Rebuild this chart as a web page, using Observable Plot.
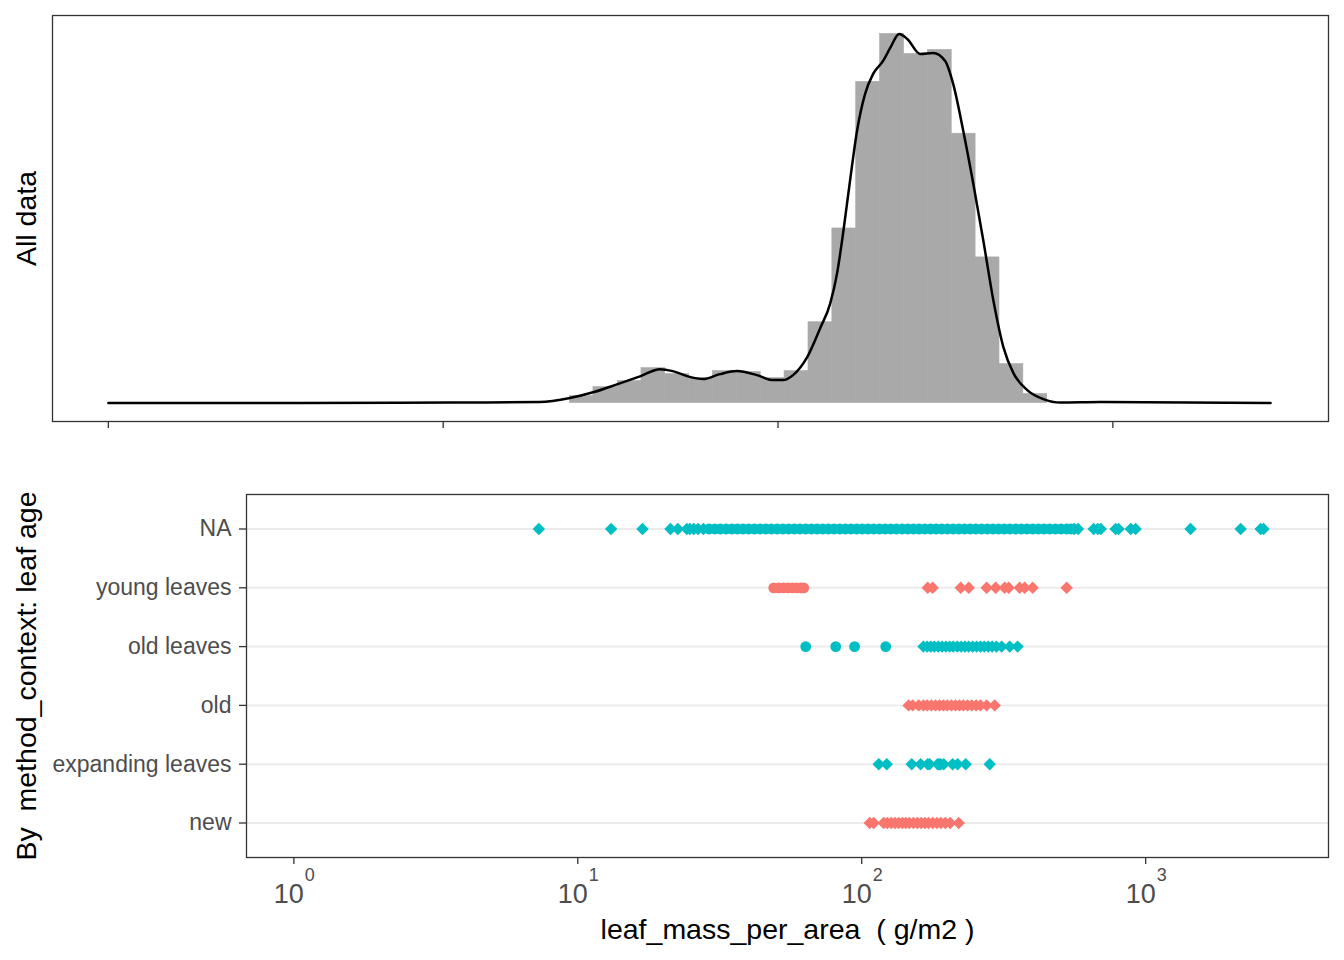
<!DOCTYPE html>
<html><head><meta charset="utf-8">
<script src="https://cdn.jsdelivr.net/npm/d3@7"></script>
<script src="https://cdn.jsdelivr.net/npm/@observablehq/plot@0.6"></script>
<style>
body{margin:0;background:#fff;}
#chart{position:relative;width:1344px;height:960px;font-family:"Liberation Sans",Arial,sans-serif;}
#chart svg{position:absolute;left:0;}
</style></head><body><div id="chart"></div>
<script>
// ---------- data ----------
const binEdges = [23.9, 28.1, 33.2, 39.1, 46.0, 54.3, 63.9, 75.4, 88.8, 104.6, 123.3, 145.3, 171.2, 201.8, 237.8, 280.3, 330.2, 389.1, 458.6, 540.4, 636.8];
const binCounts = [7, 16, 22, 35, 29, 25, 32, 31, 25, 32, 81, 175, 322, 370, 350, 354, 270, 146, 39, 9];

const densX = [1.0, 3.72, 10.5, 19.4, 23.9, 28.2, 33.2, 38.9, 44.4, 48.5, 53.5, 59.7, 67.1, 75.4, 86.5, 96.6, 103.5, 110.9, 122.2, 133.6, 143.2, 150.1, 156.4, 164.1, 172.2, 182.0, 192.3, 206.0, 216.3, 230.1, 243.2, 265.7, 290.6, 315.6, 333.5, 357.4, 382.9, 410.3, 439.6, 471.0, 504.7, 555, 620, 697, 918, 2958];
const densH = [0, 0, 0.5, 1, 5, 11, 19, 27, 34, 32, 27, 24, 29, 32, 28, 23, 23, 28, 46, 75, 100, 130, 170, 223, 273, 310, 330, 343, 356, 370, 365, 350, 351, 343, 320, 273, 220, 163, 103, 56, 30, 13, 4, 0.5, 1, 0];

const categories = ["NA", "young leaves", "old leaves", "old", "expanding leaves", "new"];
const catColors = ["#00BFC4", "#F8766D", "#00BFC4", "#F8766D", "#00BFC4", "#F8766D"];

const naDiamonds = [7.29, 13.1, 16.9, 21.2, 22.5, 24.2, 24.8, 25.6, 26.5, 27.7, 560, 578, 656, 678, 695, 784, 803, 886, 922, 1439, 2161, 2541, 2602];
const naCircles = [29, 30.4, 31.8, 33.3, 34.9, 36.5, 38.2, 40, 41.9, 43.9, 46, 48.1, 50.4, 52.8, 55.3, 57.9, 60.6, 63.5, 66.5, 69.6, 72.9, 76.3, 79.9, 83.7, 87.6, 91.7, 96, 100.5, 105.3, 110.2, 115.4, 120.9, 126.6, 132.5, 138.8, 145.3, 152.2, 159.3, 166.8, 174.7, 182.9, 191.5, 200.5, 210, 219.9, 230.2, 241.1, 252.4, 264.3, 276.8, 289.8, 303.5, 317.8, 332.7, 348.4, 364.8, 382, 400, 418.9, 438.6, 459.3, 480.9, 503.6, 527.3, 545];
const youngDiamonds = [170.8, 177.8, 223.2, 238.2, 275.4, 296.4, 318.8, 329.3, 360, 375, 400, 527];
const youngCircles = [49, 51, 53, 55, 57, 59, 61, 62.5];
const oldLeavesDiamonds = [165, 170, 175, 180, 186, 192, 198, 204, 210, 217, 224, 231, 238, 246, 254, 262, 270, 279, 288, 298, 311, 332, 354];
const oldLeavesCircles = [63.5, 81, 94.4, 121.5];
const oldDiamonds = [146.3, 151.2, 158.8, 165, 170, 176, 182, 188, 194, 200, 207, 214, 221, 228, 236, 244, 253, 262, 275.5, 294];
const expandingDiamonds = [114.8, 122.5, 150, 161.3, 170.8, 173.5, 185.2, 187.5, 189.8, 194.4, 209, 217.6, 232.4, 282.4];
const newDiamonds = [106.7, 110.2, 119.5, 123, 127, 131, 135, 139, 143, 147, 152, 157, 162, 167, 172, 178, 184, 190, 197, 205, 219.6];

const tickExps = [0, 1, 2, 3];
const xTitle = "leaf_mass_per_area\u00A0 (\u00A0g/m2\u00A0)";
const yTitleTop = "All data";
const yTitleBottom = "By\u00A0 method_context: leaf age";

// ---------- build tables ----------
const bins = binCounts.map((c, i) => ({lo: binEdges[i], hi: binEdges[i + 1], count: c}));
const dens = densX.map((v, i) => ({v, h: densH[i]}));
const groups = [
  ["NA", naDiamonds, naCircles],
  ["young leaves", youngDiamonds, youngCircles],
  ["old leaves", oldLeavesDiamonds, oldLeavesCircles],
  ["old", oldDiamonds, []],
  ["expanding leaves", expandingDiamonds, []],
  ["new", newDiamonds, []]
];
const diamondPts = [], circlePts = [];
for (const [cat, ds, cs] of groups) {
  ds.forEach(v => diamondPts.push({cat, v}));
  cs.forEach(v => circlePts.push({cat, v}));
}
const tickValues = tickExps.map(e => 10 ** e);

const FONT = '"Liberation Sans", Arial, sans-serif';
const xDomain = [0.681, 4406];
const maxCount = d3.max(binCounts);

const topPlot = Plot.plot({
  width: 1344, height: 440,
  marginLeft: 52, marginRight: 16, marginTop: 15, marginBottom: 19,
  style: {fontFamily: FONT, background: "transparent", overflow: "visible"},
  x: {type: "log", domain: xDomain, axis: null},
  y: {domain: [-0.05 * maxCount, 1.05 * maxCount], axis: null},
  marks: [
    Plot.rectY(bins, {x1: "lo", x2: "hi", y: "count", fill: "#A9A9A9", stroke: "#A9A9A9", strokeWidth: 0.6, inset: 0}),
    Plot.line(dens, {x: "v", y: "h", stroke: "#000", strokeWidth: 2.5, curve: "monotone-x"}),
    Plot.frame({stroke: "#333", strokeWidth: 1.3}),
    Plot.axisX(tickValues, {tickSize: 7, tickFormat: () => "", stroke: "#333", strokeWidth: 1.3, label: null}),
    Plot.text([yTitleTop], {text: d => d, frameAnchor: "left", rotate: -90, dx: -17, lineAnchor: "bottom", textAnchor: "middle", fontSize: 28.5, fill: "#000"})
  ]
});
topPlot.style.top = "0px";

const bottomPlot = Plot.plot({
  width: 1344, height: 520,
  marginLeft: 246, marginRight: 16, marginTop: 54, marginBottom: 103,
  style: {fontFamily: FONT, background: "transparent", overflow: "visible"},
  x: {type: "log", domain: xDomain, axis: null},
  y: {type: "point", domain: categories, padding: 0.587, round: false, axis: null},
  color: {domain: categories, range: catColors},
  marks: [
    Plot.ruleY(categories, {y: d => d, stroke: "#EBEBEB", strokeWidth: 2}),
    Plot.dot(diamondPts, {x: "v", y: "cat", fill: "cat", symbol: "diamond2", r: 5.6}),
    Plot.dot(circlePts, {x: "v", y: "cat", fill: "cat", symbol: "circle", r: 5.4}),
    Plot.frame({stroke: "#333", strokeWidth: 1.3}),
    Plot.axisY(categories, {tickSize: 7, tickPadding: 8, fontSize: 23, fill: "#4D4D4D", stroke: "#333", strokeWidth: 1.3, label: null}),
    Plot.axisX(tickValues, {tickSize: 7, tickFormat: () => "", stroke: "#333", strokeWidth: 1.3, label: null}),
    Plot.text(tickExps, {x: e => 10 ** e, text: () => "10", frameAnchor: "bottom", lineAnchor: "bottom", dy: 45, dx: -5, textAnchor: "middle", fontSize: 27, fill: "#4D4D4D"}),
    Plot.text(tickExps, {x: e => 10 ** e, text: e => String(e), frameAnchor: "bottom", lineAnchor: "bottom", dy: 23, dx: 11, textAnchor: "start", fontSize: 18, fill: "#4D4D4D"}),
    Plot.text([xTitle], {text: d => d, frameAnchor: "bottom", lineAnchor: "bottom", dy: 81, textAnchor: "middle", fontSize: 28.5, fill: "#000"}),
    Plot.text([yTitleBottom], {text: d => d, frameAnchor: "left", rotate: -90, dx: -211, lineAnchor: "bottom", textAnchor: "middle", fontSize: 28.5, fill: "#000"})
  ]
});
bottomPlot.style.top = "440px";

const chart = document.getElementById("chart");
chart.appendChild(topPlot);
chart.appendChild(bottomPlot);
</script></body></html>
